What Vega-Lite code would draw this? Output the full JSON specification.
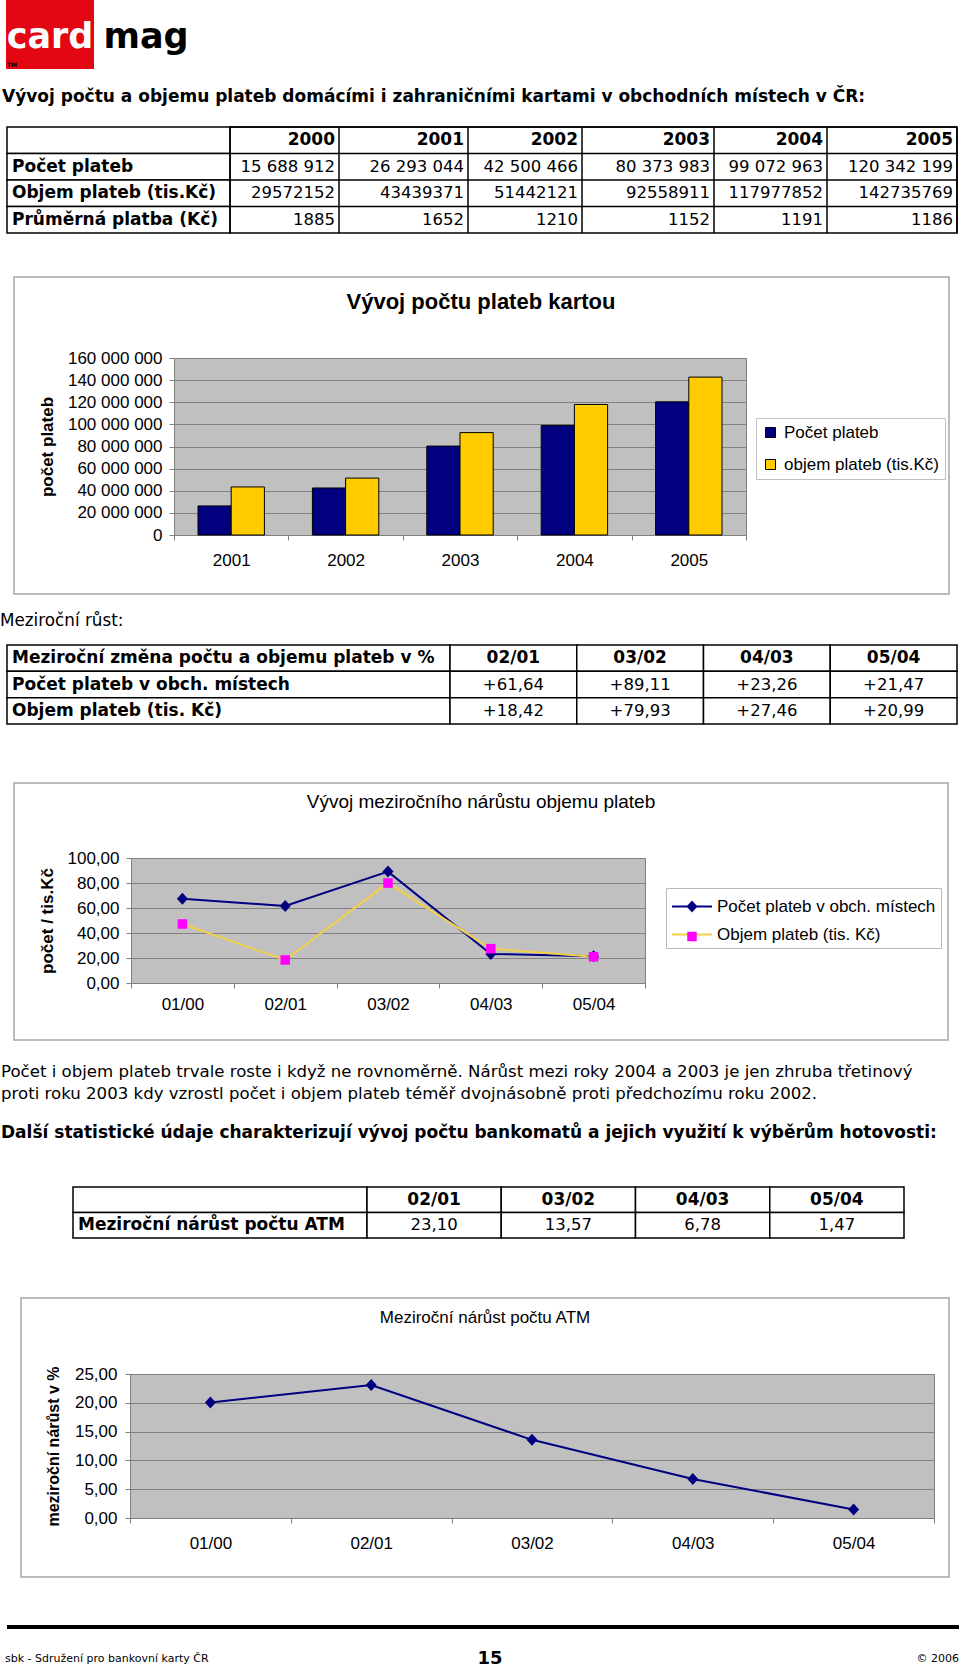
{
  "$schema": "https://vega.github.io/schema/vega-lite/v6.json",
  "background": "white",
  "padding": 0,
  "bounds": "flush",
  "spacing": 0,
  "resolve": {"scale": {"color": "independent", "stroke": "independent", "fill": "independent", "shape": "independent"}, "legend": {"color": "independent", "stroke": "independent", "fill": "independent", "shape": "independent"}},
  "datasets": {
    "bars": [
      {"year": "2001", "series": "Počet plateb", "value": 26293044},
      {"year": "2001", "series": "objem plateb (tis.Kč)", "value": 43439371},
      {"year": "2002", "series": "Počet plateb", "value": 42500466},
      {"year": "2002", "series": "objem plateb (tis.Kč)", "value": 51442121},
      {"year": "2003", "series": "Počet plateb", "value": 80373983},
      {"year": "2003", "series": "objem plateb (tis.Kč)", "value": 92558911},
      {"year": "2004", "series": "Počet plateb", "value": 99072963},
      {"year": "2004", "series": "objem plateb (tis.Kč)", "value": 117977852},
      {"year": "2005", "series": "Počet plateb", "value": 120342199},
      {"year": "2005", "series": "objem plateb (tis.Kč)", "value": 142735769}
    ],
    "growth": [
      {"period": "01/00", "series": "Počet plateb v obch. místech", "value": 67.4},
      {"period": "02/01", "series": "Počet plateb v obch. místech", "value": 61.64},
      {"period": "03/02", "series": "Počet plateb v obch. místech", "value": 89.11},
      {"period": "04/03", "series": "Počet plateb v obch. místech", "value": 23.26},
      {"period": "05/04", "series": "Počet plateb v obch. místech", "value": 21.47},
      {"period": "01/00", "series": "Objem plateb (tis. Kč)", "value": 47.2},
      {"period": "02/01", "series": "Objem plateb (tis. Kč)", "value": 18.42},
      {"period": "03/02", "series": "Objem plateb (tis. Kč)", "value": 79.93},
      {"period": "04/03", "series": "Objem plateb (tis. Kč)", "value": 27.46},
      {"period": "05/04", "series": "Objem plateb (tis. Kč)", "value": 20.99}
    ],
    "atm": [
      {"period": "01/00", "value": 20.05},
      {"period": "02/01", "value": 23.10},
      {"period": "03/02", "value": 13.57},
      {"period": "04/03", "value": 6.78},
      {"period": "05/04", "value": 1.47}
    ],
    "t1": [
      {"row": "h", "col": "label", "text": ""},
      {"row": "a", "col": "label", "text": "Počet plateb"},
      {"row": "b", "col": "label", "text": "Objem plateb (tis.Kč)"},
      {"row": "c", "col": "label", "text": "Průměrná platba (Kč)"},
      {"row": "h", "col": "2000", "yr": 2000, "text": "2000"},
      {"row": "a", "col": "2000", "yr": 2000, "text": "15 688 912"},
      {"row": "b", "col": "2000", "yr": 2000, "text": "29572152"},
      {"row": "c", "col": "2000", "yr": 2000, "text": "1885"},
      {"row": "h", "col": "2001", "yr": 2001, "text": "2001"},
      {"row": "a", "col": "2001", "yr": 2001, "text": "26 293 044"},
      {"row": "b", "col": "2001", "yr": 2001, "text": "43439371"},
      {"row": "c", "col": "2001", "yr": 2001, "text": "1652"},
      {"row": "h", "col": "2002", "yr": 2002, "text": "2002"},
      {"row": "a", "col": "2002", "yr": 2002, "text": "42 500 466"},
      {"row": "b", "col": "2002", "yr": 2002, "text": "51442121"},
      {"row": "c", "col": "2002", "yr": 2002, "text": "1210"},
      {"row": "h", "col": "2003", "yr": 2003, "text": "2003"},
      {"row": "a", "col": "2003", "yr": 2003, "text": "80 373 983"},
      {"row": "b", "col": "2003", "yr": 2003, "text": "92558911"},
      {"row": "c", "col": "2003", "yr": 2003, "text": "1152"},
      {"row": "h", "col": "2004", "yr": 2004, "text": "2004"},
      {"row": "a", "col": "2004", "yr": 2004, "text": "99 072 963"},
      {"row": "b", "col": "2004", "yr": 2004, "text": "117977852"},
      {"row": "c", "col": "2004", "yr": 2004, "text": "1191"},
      {"row": "h", "col": "2005", "yr": 2005, "text": "2005"},
      {"row": "a", "col": "2005", "yr": 2005, "text": "120 342 199"},
      {"row": "b", "col": "2005", "yr": 2005, "text": "142735769"},
      {"row": "c", "col": "2005", "yr": 2005, "text": "1186"}
    ],
    "t2": [
      {"row": "h", "col": "label", "text": "Meziroční změna počtu a objemu plateb v %"},
      {"row": "a", "col": "label", "text": "Počet plateb v obch. místech"},
      {"row": "b", "col": "label", "text": "Objem plateb (tis. Kč)"},
      {"row": "h", "col": "02/01", "text": "02/01"},
      {"row": "h", "col": "03/02", "text": "03/02"},
      {"row": "h", "col": "04/03", "text": "04/03"},
      {"row": "h", "col": "05/04", "text": "05/04"},
      {"row": "a", "col": "02/01", "text": "+61,64"},
      {"row": "a", "col": "03/02", "text": "+89,11"},
      {"row": "a", "col": "04/03", "text": "+23,26"},
      {"row": "a", "col": "05/04", "text": "+21,47"},
      {"row": "b", "col": "02/01", "text": "+18,42"},
      {"row": "b", "col": "03/02", "text": "+79,93"},
      {"row": "b", "col": "04/03", "text": "+27,46"},
      {"row": "b", "col": "05/04", "text": "+20,99"}
    ],
    "t3": [
      {"row": "h", "col": "label", "text": ""},
      {"row": "a", "col": "label", "text": "Meziroční nárůst počtu ATM"},
      {"row": "h", "col": "02/01", "text": "02/01"},
      {"row": "h", "col": "03/02", "text": "03/02"},
      {"row": "h", "col": "04/03", "text": "04/03"},
      {"row": "h", "col": "05/04", "text": "05/04"},
      {"row": "a", "col": "02/01", "text": "23,10"},
      {"row": "a", "col": "03/02", "text": "13,57"},
      {"row": "a", "col": "04/03", "text": "6,78"},
      {"row": "a", "col": "05/04", "text": "1,47"}
    ]
  },
  "vconcat": [
    {"hconcat": [
      {"width": 4, "height": 69, "data": {"values": []}, "mark": "point"},
      {"width": 88, "height": 69, "view": {"fill": "#E30613"}, "data": {"values": [{"t": "card"}]},
       "mark": {"type": "text", "font": "DejaVu Sans", "fontWeight": "bold", "fontSize": 35, "color": "white", "baseline": "alphabetic", "dy": 13},
       "encoding": {"text": {"field": "t"}},
       "title": {"text": "TM", "orient": "bottom", "anchor": "start", "offset": -7, "fontSize": 6, "font": "DejaVu Sans", "fontWeight": "bold", "color": "black", "dx": 1}},
      {"width": 104, "height": 69, "data": {"values": [{"t": "mag"}]},
       "mark": {"type": "text", "font": "DejaVu Sans", "fontWeight": "bold", "fontSize": 35, "color": "black", "baseline": "alphabetic", "dy": 13},
       "encoding": {"text": {"field": "t"}}}
    ], "spacing": 0, "bounds": "flush"},
    {"width": 1, "height": 127, "data": {"values": []}, "mark": "point"},
    {"hconcat": [
      {"width": 5, "height": 106, "data": {"values": []}, "mark": "point",
       "title": {"text": "Vývoj  počtu a objemu plateb domácími i zahraničními kartami v obchodních místech v ČR:", "anchor": "start", "frame": "group", "orient": "top", "offset": 21, "font": "DejaVu Sans", "fontSize": 17, "fontWeight": "bold", "dx": 0}},
      {"width": 223, "height": 106, "data": {"name": "t1"}, "transform": [{"filter": "datum.col == 'label'"}],
       "layer": [
         {"mark": {"type": "rect", "fill": "white", "stroke": "black", "strokeWidth": 1.5},
          "encoding": {"x": {"field": "col", "type": "nominal", "axis": null, "scale": {"type": "band", "paddingInner": 0, "paddingOuter": 0}},
                       "y": {"field": "row", "type": "nominal", "axis": null, "scale": {"type": "band", "domain": ["h", "a", "b", "c"], "paddingInner": 0, "paddingOuter": 0}}}},
         {"mark": {"type": "text", "fontWeight": "bold", "fontSize": 17, "align": "left", "baseline": "middle", "dx": 5},
          "encoding": {"text": {"field": "text"},
                       "x": {"field": "col", "type": "nominal", "axis": null, "bandPosition": 0, "scale": {"type": "band", "paddingInner": 0, "paddingOuter": 0}},
                       "y": {"field": "row", "type": "nominal", "axis": null, "bandPosition": 0.5, "scale": {"type": "band", "domain": ["h", "a", "b", "c"], "paddingInner": 0, "paddingOuter": 0}}}}
       ]},
      {"width": 727, "height": 106, "data": {"name": "t1"}, "transform": [{"filter": "datum.col != 'label'"}],
       "view": {"stroke": "black", "strokeWidth": 1.5},
       "layer": [
         {"transform": [{"filter": "datum.row == 'h'"}], "mark": {"type": "rule", "color": "black", "strokeWidth": 1.5},
          "encoding": {"x": {"field": "yr", "type": "quantitative", "axis": null, "scale": {"domain": [1999, 2000, 2001, 2002, 2003, 2004, 2005], "range": [0, 109, 238, 352, 484, 597, 727], "nice": false, "zero": false}}}},
         {"transform": [{"filter": "datum.col == '2000'"}], "mark": {"type": "rule", "color": "black", "strokeWidth": 1.5},
          "encoding": {"y": {"field": "row", "type": "nominal", "axis": null, "bandPosition": 0, "scale": {"type": "band", "domain": ["h", "a", "b", "c"], "paddingInner": 0, "paddingOuter": 0}}}},
         {"transform": [{"filter": "datum.row == 'h'"}], "mark": {"type": "text", "fontWeight": "bold", "fontSize": 17, "align": "right", "baseline": "middle", "dx": -4},
          "encoding": {"text": {"field": "text"},
                       "x": {"field": "yr", "type": "quantitative", "axis": null, "scale": {"domain": [1999, 2000, 2001, 2002, 2003, 2004, 2005], "range": [0, 109, 238, 352, 484, 597, 727], "nice": false, "zero": false}},
                       "y": {"field": "row", "type": "nominal", "axis": null, "bandPosition": 0.5, "scale": {"type": "band", "domain": ["h", "a", "b", "c"], "paddingInner": 0, "paddingOuter": 0}}}},
         {"transform": [{"filter": "datum.row != 'h'"}], "mark": {"type": "text", "align": "right", "baseline": "middle", "dx": -4},
          "encoding": {"text": {"field": "text"},
                       "x": {"field": "yr", "type": "quantitative", "axis": null, "scale": {"domain": [1999, 2000, 2001, 2002, 2003, 2004, 2005], "range": [0, 109, 238, 352, 484, 597, 727], "nice": false, "zero": false}},
                       "y": {"field": "row", "type": "nominal", "axis": null, "bandPosition": 0.5, "scale": {"type": "band", "domain": ["h", "a", "b", "c"], "paddingInner": 0, "paddingOuter": 0}}}}
       ]}
    ], "spacing": 0, "bounds": "flush"},
    {"width": 1, "height": 231, "data": {"values": []}, "mark": "point"},
    {"hconcat": [
      {"width": 172, "height": 177, "data": {"values": []}, "mark": "point"},
      {"width": 572, "height": 177,
       "view": {"fill": "#c0c0c0", "stroke": "#808080", "strokeWidth": 1},
       "title": {"text": "Vývoj počtu plateb kartou", "anchor": "middle", "frame": "group", "offset": -38, "dx": 21, "font": "Liberation Sans", "fontSize": 22, "fontWeight": "bold"},
       "resolve": {"scale": {"x": "independent", "y": "independent"}},
       "layer": [
         {"data": {"name": "bars"},
          "mark": {"type": "bar", "stroke": "black", "strokeWidth": 1},
          "encoding": {
            "x": {"field": "year", "type": "nominal", "sort": null, "scale": {"type": "band", "paddingInner": 0, "paddingOuter": 0},
                  "axis": {"title": null, "labelAngle": 0, "tickBand": "extent", "tickSize": 5, "labelPadding": 12, "domain": false, "labelFontSize": 17}},
            "xOffset": {"field": "series", "type": "nominal", "sort": null, "scale": {"paddingInner": 0, "paddingOuter": 0.723}},
            "y": {"field": "value", "type": "quantitative", "scale": {"domain": [0, 160000000]},
                  "axis": {"values": [0, 20000000, 40000000, 60000000, 80000000, 100000000, 120000000, 140000000, 160000000], "format": ",d", "tickSize": 5, "labelPadding": 7, "domain": false, "labelFontSize": 17,
                           "title": "počet plateb", "titleFontWeight": "bold", "titleFontSize": 17, "titleX": -127, "titleBaseline": "middle"}},
            "color": {"field": "series", "type": "nominal", "sort": null,
                      "scale": {"domain": ["Počet plateb", "objem plateb (tis.Kč)"], "range": ["#000080", "#FFCC00"]},
                      "legend": {"orient": "none", "legendX": 582, "legendY": 60, "title": null, "symbolType": "square", "symbolSize": 100, "symbolStrokeColor": "black", "symbolStrokeWidth": 1, "rowPadding": 14, "padding": 6, "labelOffset": 5, "labelLimit": 0, "strokeColor": "#c0c0c0", "fillColor": "white", "labelFontSize": 17}}
          }},
         {"data": {"values": [{"box": "frame"}]},
          "mark": {"type": "rect", "fill": "transparent", "stroke": "#a8a8a8", "strokeWidth": 1.5},
          "encoding": {"x": {"datum": 0, "type": "quantitative", "scale": {"domain": [0, 1], "range": [-160, 775]}, "axis": null}, "x2": {"datum": 1},
                       "y": {"datum": 0, "type": "quantitative", "scale": {"domain": [0, 1], "range": [-81, 236]}, "axis": null}, "y2": {"datum": 1}}}
       ]}
    ], "spacing": 0, "bounds": "flush",
     "resolve": {"scale": {"color": "independent"}, "legend": {"color": "independent"}}},
    {"width": 1, "height": 287, "data": {"values": []}, "mark": "point"},
    {"hconcat": [
      {"width": 5, "height": 79, "data": {"values": []}, "mark": "point",
       "title": {"text": "Meziroční růst:", "anchor": "start", "frame": "group", "orient": "top", "offset": 15, "font": "DejaVu Sans", "fontSize": 16.8, "fontWeight": "normal", "dx": -2}},
      {"width": 443, "height": 79, "data": {"name": "t2"}, "transform": [{"filter": "datum.col == 'label'"}],
       "layer": [
         {"mark": {"type": "rect", "fill": "white", "stroke": "black", "strokeWidth": 1.5},
          "encoding": {"x": {"field": "col", "type": "nominal", "axis": null, "scale": {"type": "band", "paddingInner": 0, "paddingOuter": 0}},
                       "y": {"field": "row", "type": "nominal", "axis": null, "scale": {"type": "band", "domain": ["h", "a", "b"], "paddingInner": 0, "paddingOuter": 0}}}},
         {"mark": {"type": "text", "fontWeight": "bold", "fontSize": 17, "align": "left", "baseline": "middle", "dx": 5},
          "encoding": {"text": {"field": "text"},
                       "x": {"field": "col", "type": "nominal", "axis": null, "bandPosition": 0, "scale": {"type": "band", "paddingInner": 0, "paddingOuter": 0}},
                       "y": {"field": "row", "type": "nominal", "axis": null, "bandPosition": 0.5, "scale": {"type": "band", "domain": ["h", "a", "b"], "paddingInner": 0, "paddingOuter": 0}}}}
       ]},
      {"width": 507, "height": 79, "data": {"name": "t2"}, "transform": [{"filter": "datum.col != 'label'"}],
       "layer": [
         {"mark": {"type": "rect", "fill": "white", "stroke": "black", "strokeWidth": 1.5},
          "encoding": {"x": {"field": "col", "type": "nominal", "axis": null, "scale": {"type": "band", "domain": ["02/01", "03/02", "04/03", "05/04"], "paddingInner": 0, "paddingOuter": 0}},
                       "y": {"field": "row", "type": "nominal", "axis": null, "scale": {"type": "band", "domain": ["h", "a", "b"], "paddingInner": 0, "paddingOuter": 0}}}},
         {"transform": [{"filter": "datum.row == 'h'"}], "mark": {"type": "text", "fontWeight": "bold", "fontSize": 17, "align": "center", "baseline": "middle"},
          "encoding": {"text": {"field": "text"},
                       "x": {"field": "col", "type": "nominal", "axis": null, "bandPosition": 0.5, "scale": {"type": "band", "domain": ["02/01", "03/02", "04/03", "05/04"], "paddingInner": 0, "paddingOuter": 0}},
                       "y": {"field": "row", "type": "nominal", "axis": null, "bandPosition": 0.5, "scale": {"type": "band", "domain": ["h", "a", "b"], "paddingInner": 0, "paddingOuter": 0}}}},
         {"transform": [{"filter": "datum.row != 'h'"}], "mark": {"type": "text", "align": "center", "baseline": "middle"},
          "encoding": {"text": {"field": "text"},
                       "x": {"field": "col", "type": "nominal", "axis": null, "bandPosition": 0.5, "scale": {"type": "band", "domain": ["02/01", "03/02", "04/03", "05/04"], "paddingInner": 0, "paddingOuter": 0}},
                       "y": {"field": "row", "type": "nominal", "axis": null, "bandPosition": 0.5, "scale": {"type": "band", "domain": ["h", "a", "b"], "paddingInner": 0, "paddingOuter": 0}}}}
       ]}
    ], "spacing": 0, "bounds": "flush"},
    {"width": 1, "height": 213, "data": {"values": []}, "mark": "point"},
    {"hconcat": [
      {"width": 129, "height": 125, "data": {"values": []}, "mark": "point"},
      {"width": 514, "height": 125,
       "view": {"fill": "#c0c0c0", "stroke": "#808080", "strokeWidth": 1},
       "title": {"text": "Vývoj meziročního nárůstu objemu plateb", "anchor": "middle", "frame": "group", "offset": -30, "dx": 93, "font": "Liberation Sans", "fontSize": 19, "fontWeight": "normal"},
       "resolve": {"scale": {"x": "independent", "y": "independent"}},
       "layer": [
         {"data": {"name": "growth"},
          "encoding": {
            "x": {"field": "period", "type": "nominal", "sort": null, "bandPosition": 0.5, "scale": {"type": "band", "paddingInner": 0, "paddingOuter": 0},
                  "axis": {"title": null, "labelAngle": 0, "tickBand": "extent", "tickSize": 5, "labelPadding": 8, "domain": false, "labelFontSize": 17}},
            "y": {"field": "value", "type": "quantitative", "scale": {"domain": [0, 100]},
                  "axis": {"values": [0, 20, 40, 60, 80, 100], "format": ".2f", "tickSize": 5, "labelPadding": 7, "domain": false, "labelFontSize": 17,
                           "title": "počet / tis.Kč", "titleFontWeight": "bold", "titleFontSize": 17, "titleX": -84, "titleBaseline": "middle"}}
          },
          "layer": [
            {"mark": {"type": "line", "strokeWidth": 2},
             "encoding": {"stroke": {"field": "series", "type": "nominal",
                                     "scale": {"domain": ["Počet plateb v obch. místech", "Objem plateb (tis. Kč)"], "range": ["#000080", "#F0D048"]},
                                     "legend": {"orient": "none", "legendX": 535, "legendY": 30, "title": null, "symbolType": "M-1.6,0H1.6", "symbolSize": 625, "symbolStrokeWidth": 2, "symbolOffset": 7.5, "labelOffset": 11.5, "labelLimit": 0, "rowPadding": 6, "padding": 5, "strokeColor": "#b8b8b8", "labelFontSize": 17}}}},
            {"mark": {"type": "point", "filled": true, "opacity": 1, "size": 625},
             "encoding": {
               "fill": {"field": "series", "type": "nominal", "sort": null,
                        "scale": {"range": ["#000080", "#FF00FF"]},
                        "legend": {"orient": "none", "legendX": 535, "legendY": 30, "title": null, "symbolSize": 625, "symbolStrokeWidth": 2, "symbolStrokeColor": "transparent", "symbolOffset": 7.5, "labelOffset": 11.5, "labelLimit": 0, "rowPadding": 6, "padding": 5, "labelOpacity": 0, "labelFontSize": 17}},
               "shape": {"field": "series", "type": "nominal", "sort": null,
                         "scale": {"range": ["M0,-0.48L0.44,0L0,0.48L-0.44,0Z", "M-0.38,-0.38H0.38V0.38H-0.38Z"]},
                         "legend": {"orient": "none", "legendX": 535, "legendY": 30, "title": null, "symbolSize": 625, "symbolStrokeWidth": 2, "symbolStrokeColor": "transparent", "symbolOffset": 7.5, "labelOffset": 11.5, "labelLimit": 0, "rowPadding": 6, "padding": 5, "labelOpacity": 0, "labelFontSize": 17}}
             }}
          ]},
         {"data": {"values": [{"box": "frame"}]},
          "mark": {"type": "rect", "fill": "transparent", "stroke": "#a8a8a8", "strokeWidth": 1.5},
          "encoding": {"x": {"datum": 0, "type": "quantitative", "scale": {"domain": [0, 1], "range": [-117, 817]}, "axis": null}, "x2": {"datum": 1},
                       "y": {"datum": 0, "type": "quantitative", "scale": {"domain": [0, 1], "range": [-75, 182]}, "axis": null}, "y2": {"datum": 1}}}
       ]}
    ], "spacing": 0, "bounds": "flush",
     "resolve": {"scale": {"stroke": "independent", "fill": "independent", "shape": "independent"}, "legend": {"stroke": "independent", "fill": "independent", "shape": "independent"}}},
    {"width": 1, "height": 329, "data": {"values": []}, "mark": "point"},
    {"hconcat": [
      {"width": 71, "height": 51, "data": {"values": []}, "mark": "point",
       "title": {"text": ["Počet i objem plateb trvale roste i když ne rovnoměrně. Nárůst mezi roky 2004 a 2003 je jen zhruba třetinový", "proti roku 2003 kdy vzrostl počet i objem plateb téměř dvojnásobně proti předchozímu roku 2002."],
                 "subtitle": "Další statistické údaje charakterizují vývoj počtu bankomatů a jejich využití k výběrům hotovosti:",
                 "anchor": "start", "frame": "group", "orient": "top", "offset": 46, "font": "DejaVu Sans", "fontSize": 16.6, "fontWeight": "normal", "lineHeight": 22,
                 "subtitleFont": "DejaVu Sans", "subtitleFontSize": 17, "subtitleFontWeight": "bold", "subtitleColor": "black", "subtitlePadding": 22, "dx": -1}},
      {"width": 294, "height": 51, "data": {"name": "t3"}, "transform": [{"filter": "datum.col == 'label'"}],
       "layer": [
         {"mark": {"type": "rect", "fill": "white", "stroke": "black", "strokeWidth": 1.5},
          "encoding": {"x": {"field": "col", "type": "nominal", "axis": null, "scale": {"type": "band", "paddingInner": 0, "paddingOuter": 0}},
                       "y": {"field": "row", "type": "nominal", "axis": null, "scale": {"type": "band", "domain": ["h", "a"], "paddingInner": 0, "paddingOuter": 0}}}},
         {"mark": {"type": "text", "fontWeight": "bold", "fontSize": 17, "align": "left", "baseline": "middle", "dx": 5},
          "encoding": {"text": {"field": "text"},
                       "x": {"field": "col", "type": "nominal", "axis": null, "bandPosition": 0, "scale": {"type": "band", "paddingInner": 0, "paddingOuter": 0}},
                       "y": {"field": "row", "type": "nominal", "axis": null, "bandPosition": 0.5, "scale": {"type": "band", "domain": ["h", "a"], "paddingInner": 0, "paddingOuter": 0}}}}
       ]},
      {"width": 537, "height": 51, "data": {"name": "t3"}, "transform": [{"filter": "datum.col != 'label'"}],
       "layer": [
         {"mark": {"type": "rect", "fill": "white", "stroke": "black", "strokeWidth": 1.5},
          "encoding": {"x": {"field": "col", "type": "nominal", "axis": null, "scale": {"type": "band", "domain": ["02/01", "03/02", "04/03", "05/04"], "paddingInner": 0, "paddingOuter": 0}},
                       "y": {"field": "row", "type": "nominal", "axis": null, "scale": {"type": "band", "domain": ["h", "a"], "paddingInner": 0, "paddingOuter": 0}}}},
         {"transform": [{"filter": "datum.row == 'h'"}], "mark": {"type": "text", "fontWeight": "bold", "fontSize": 17, "align": "center", "baseline": "middle"},
          "encoding": {"text": {"field": "text"},
                       "x": {"field": "col", "type": "nominal", "axis": null, "bandPosition": 0.5, "scale": {"type": "band", "domain": ["02/01", "03/02", "04/03", "05/04"], "paddingInner": 0, "paddingOuter": 0}},
                       "y": {"field": "row", "type": "nominal", "axis": null, "bandPosition": 0.5, "scale": {"type": "band", "domain": ["h", "a"], "paddingInner": 0, "paddingOuter": 0}}}},
         {"transform": [{"filter": "datum.row != 'h'"}], "mark": {"type": "text", "align": "center", "baseline": "middle"},
          "encoding": {"text": {"field": "text"},
                       "x": {"field": "col", "type": "nominal", "axis": null, "bandPosition": 0.5, "scale": {"type": "band", "domain": ["02/01", "03/02", "04/03", "05/04"], "paddingInner": 0, "paddingOuter": 0}},
                       "y": {"field": "row", "type": "nominal", "axis": null, "bandPosition": 0.5, "scale": {"type": "band", "domain": ["h", "a"], "paddingInner": 0, "paddingOuter": 0}}}}
       ]}
    ], "spacing": 0, "bounds": "flush"},
    {"width": 1, "height": 187, "data": {"values": []}, "mark": "point"},
    {"hconcat": [
      {"width": 128, "height": 144, "data": {"values": []}, "mark": "point"},
      {"width": 804, "height": 144,
       "view": {"fill": "#c0c0c0", "stroke": "#808080", "strokeWidth": 1},
       "title": {"text": "Meziroční nárůst počtu ATM", "anchor": "middle", "frame": "group", "offset": -30, "dx": -47, "font": "Liberation Sans", "fontSize": 17, "fontWeight": "normal"},
       "resolve": {"scale": {"x": "independent", "y": "independent"}},
       "layer": [
         {"data": {"name": "atm"},
          "encoding": {
            "x": {"field": "period", "type": "nominal", "sort": null, "bandPosition": 0.5, "scale": {"type": "band", "paddingInner": 0, "paddingOuter": 0},
                  "axis": {"title": null, "labelAngle": 0, "tickBand": "extent", "tickSize": 5, "labelPadding": 12, "domain": false, "labelFontSize": 17}},
            "y": {"field": "value", "type": "quantitative", "scale": {"domain": [0, 25]},
                  "axis": {"values": [0, 5, 10, 15, 20, 25], "format": ".2f", "tickSize": 5, "labelPadding": 8, "domain": false, "labelFontSize": 17,
                           "title": "meziroční nárůst v %", "titleFontWeight": "bold", "titleFontSize": 16, "titleX": -77, "titleBaseline": "middle"}}
          },
          "layer": [
            {"mark": {"type": "line", "color": "#000080", "strokeWidth": 2}},
            {"mark": {"type": "point", "filled": true, "color": "#000080", "opacity": 1, "size": 625, "shape": "M0,-0.48L0.44,0L0,0.48L-0.44,0Z"}}
          ]},
         {"data": {"values": [{"box": "frame"}]},
          "mark": {"type": "rect", "fill": "transparent", "stroke": "#a8a8a8", "strokeWidth": 1.5},
          "encoding": {"x": {"datum": 0, "type": "quantitative", "scale": {"domain": [0, 1], "range": [-109, 819]}, "axis": null}, "x2": {"datum": 1},
                       "y": {"datum": 0, "type": "quantitative", "scale": {"domain": [0, 1], "range": [-76, 203]}, "axis": null}, "y2": {"datum": 1}}}
       ]}
    ], "spacing": 0, "bounds": "flush"},
    {"width": 1, "height": 251, "data": {"values": []}, "mark": "point"},
    {"hconcat": [
      {"width": 5, "height": 4, "data": {"values": []}, "mark": "point"},
      {"width": 325, "height": 4, "data": {"values": []}, "mark": "point", "view": {"fill": "black"},
       "title": {"text": "sbk - Sdružení pro bankovní karty ČR", "orient": "bottom", "anchor": "start", "frame": "group", "offset": 24, "font": "DejaVu Sans", "fontSize": 11, "fontWeight": "normal", "dx": -2}},
      {"width": 316, "height": 4, "data": {"values": []}, "mark": "point", "view": {"fill": "black"},
       "title": {"text": "15", "orient": "bottom", "anchor": "middle", "frame": "group", "offset": 21, "font": "DejaVu Sans", "fontSize": 18, "fontWeight": "bold"}},
      {"width": 311, "height": 4, "data": {"values": []}, "mark": "point", "view": {"fill": "black"},
       "title": {"text": "© 2006", "orient": "bottom", "anchor": "end", "frame": "group", "offset": 24, "font": "DejaVu Sans", "fontSize": 11, "fontWeight": "normal"}}
    ], "spacing": 0, "bounds": "flush"}
  ],
  "config": {
    "view": {"stroke": null},
    "locale": {"number": {"decimal": ",", "thousands": " ", "grouping": [3], "currency": ["", " Kč"]}},
    "font": "Liberation Sans",
    "axis": {"labelFont": "Liberation Sans", "titleFont": "Liberation Sans", "labelColor": "black", "titleColor": "black", "labelFontSize": 17, "titleFontSize": 17, "tickColor": "#808080", "domainColor": "#808080", "gridColor": "#808080", "gridOpacity": 1},
    "legend": {"labelFont": "Liberation Sans", "labelFontSize": 17, "labelColor": "black"},
    "title": {"color": "black"},
    "text": {"font": "DejaVu Sans", "fontSize": 16.5, "color": "black"}
  }
}
